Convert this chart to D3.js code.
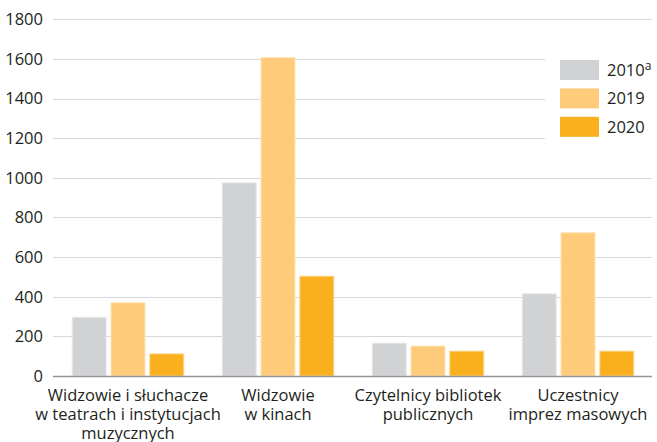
<!DOCTYPE html>
<html><head><meta charset="utf-8">
<script src="https://cdn.jsdelivr.net/npm/d3@7"></script>
<style>
html,body{margin:0;padding:0;background:#fff;}
svg{display:block;font-family:"Open Sans",sans-serif;}
</style></head>
<body>
<svg id="c" width="657" height="442"></svg>
<script>
const categories = [
  ["Widzowie i słuchacze","w teatrach i instytucjach","muzycznych"],
  ["Widzowie","w kinach"],
  ["Czytelnicy bibliotek","publicznych"],
  ["Uczestnicy","imprez masowych"]
];
const seriesNames = ["2010", "2019", "2020"];
const seriesSup = ["a", "", ""];
const values2010 = [299, 977, 168, 417];
const values2019 = [372, 1609, 153, 725];
const values2020 = [114, 506, 128, 128];
const yTicks = [0, 200, 400, 600, 800, 1000, 1200, 1400, 1600, 1800];
const colors = ["#d1d2d4", "#fdcb7a", "#f9b01c"];
const strokes = ["#e6e7e8", "#fee2ad", "#fdd58a"];

const series = [values2010, values2019, values2020];
const svg = d3.select("#c");

const y = d3.scaleLinear().domain([0, 1800]).range([376, 19.3]);
const x0 = d3.scaleBand().domain(d3.range(categories.length)).range([53, 653]).padding(0);
const x1 = d3.scaleBand().domain(d3.range(series.length)).range([0, 112.5]).paddingInner(0.1).paddingOuter(0);

// gridlines
svg.append("g").selectAll("line").data(yTicks.filter(d => d > 0)).join("line")
  .attr("x1", 53)
  .attr("x2", d => (d >= 1200 && d <= 1600) ? 545 : 652)
  .attr("y1", d => Math.round(y(d)) + 0.5).attr("y2", d => Math.round(y(d)) + 0.5)
  .attr("stroke", "#d7d8d9").attr("stroke-width", 1.2);

// y labels
svg.append("g").selectAll("text").data(yTicks).join("text")
  .attr("x", 43).attr("y", d => y(d)).attr("dy", "0.35em")
  .attr("text-anchor", "end").attr("font-size", 16.5).attr("fill", "#231f20")
  .text(d => d);

// bars
const g = svg.append("g");
categories.forEach((c, i) => {
  const cx = x0(i) + x0.bandwidth() / 2 - 56.25;
  series.forEach((s, j) => {
    g.append("rect")
      .attr("x", cx + x1(j) + 0.5)
      .attr("y", y(s[i]) + 0.5)
      .attr("width", x1.bandwidth() - 1)
      .attr("height", y(0) - y(s[i]) - 0.5)
      .attr("fill", colors[j])
      .attr("stroke", strokes[j]).attr("stroke-width", 1);
  });
});

// axis line
svg.append("line").attr("x1", 53).attr("x2", 652).attr("y1", 376.5).attr("y2", 376.5)
  .attr("stroke", "#939598").attr("stroke-width", 1.3);

// category labels
categories.forEach((c, i) => {
  const t = svg.append("text").attr("text-anchor", "middle").attr("font-size", 16.5).attr("fill", "#231f20");
  c.forEach((line, k) => {
    t.append("tspan").attr("x", x0(i) + x0.bandwidth() / 2).attr("y", 401 + k * 19).text(line);
  });
});

// legend
const lg = svg.append("g");
seriesNames.forEach((n, j) => {
  const yy = 60 + j * 28.4;
  lg.append("rect").attr("x", 560).attr("y", yy).attr("width", 39).attr("height", 20).attr("fill", colors[j]);
  const t = lg.append("text").attr("x", 607).attr("y", yy + 10).attr("dy", "0.35em")
    .attr("font-size", 16.5).attr("fill", "#231f20").text(n);
  if (seriesSup[j]) t.append("tspan").attr("dy", "-0.45em").attr("font-size", 12).text(seriesSup[j]);
});
</script>
</body></html>
